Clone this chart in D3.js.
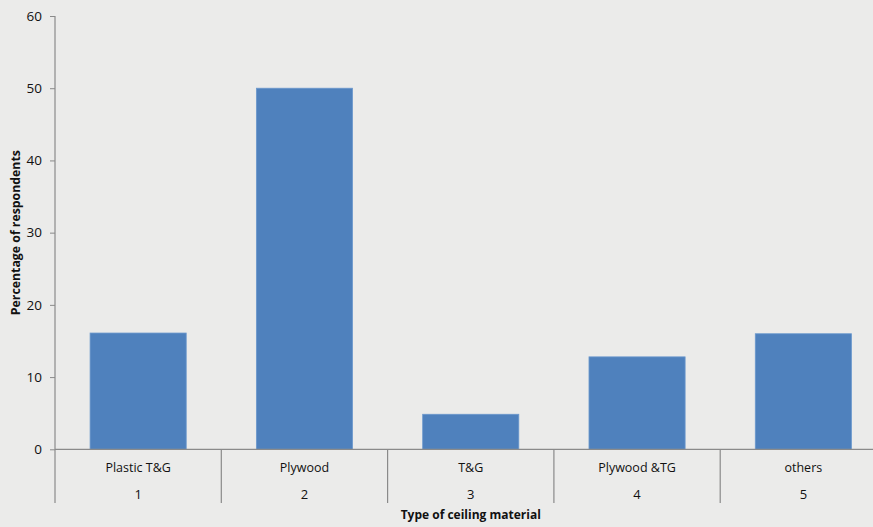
<!DOCTYPE html>
<html>
<head>
<meta charset="utf-8">
<script src="https://cdn.jsdelivr.net/npm/d3@7"></script>
<style>
  html, body { margin: 0; padding: 0; background: #ebebea; }
  svg { display: block; }
  text { font-family: "Open Sans", "Noto Sans", sans-serif; fill: #111; }
</style>
</head>
<body>
<svg id="chart" width="873" height="527"></svg>
<script>
// Ceiling material survey
const categories = ["Plastic T&G", "Plywood", "T&G", "Plywood &TG", "others"];
const codes = ["1", "2", "3", "4", "5"];
const percentages = [16.1, 50.0, 4.85, 12.8, 16.0];
const yTicks = [0, 10, 20, 30, 40, 50, 60];

const svg = d3.select("#chart");
const W = 873, H = 527;
const plotLeft = 55, plotRight = 886.5, plotTop = 16, plotBottom = 449.3;
const axisColor = "#8a8a8a";

svg.append("rect").attr("width", W).attr("height", H).attr("fill", "#ebebea");

const x = d3.scaleBand().domain(d3.range(categories.length)).range([plotLeft, plotRight]).padding(0);
const y = d3.scaleLinear().domain([0, 60]).range([plotBottom, plotTop]);
const barW = x.bandwidth() * 0.578;
const edgeX = i => plotLeft + i * x.step();

// Bars
svg.append("g").selectAll("rect")
  .data(percentages)
  .join("rect")
  .attr("x", (d, i) => x(i) + (x.bandwidth() - barW) / 2)
  .attr("y", d => y(d))
  .attr("width", barW)
  .attr("height", d => y(0) - y(d))
  .attr("fill", "#4f81bd")
  .attr("stroke", "#6b98cd")
  .attr("stroke-width", 0.8);

// Y axis
const yAxis = d3.axisLeft(y).tickValues(yTicks).tickSize(5).tickPadding(8);
const gy = svg.append("g").attr("transform", `translate(${plotLeft},0)`).call(yAxis);
gy.select(".domain").remove();
gy.selectAll(".tick line").attr("stroke", axisColor);
gy.selectAll(".tick text").attr("font-size", 13.5).attr("fill", "#111")
  .style("font-family", "'Open Sans', sans-serif");
svg.append("line").attr("x1", plotLeft).attr("x2", plotLeft).attr("y1", plotTop).attr("y2", 503)
  .attr("stroke", axisColor).attr("stroke-width", 1.2);

// X axis line and category separators
svg.append("line").attr("x1", plotLeft).attr("x2", W).attr("y1", y(0)).attr("y2", y(0))
  .attr("stroke", axisColor).attr("stroke-width", 1.2);
svg.append("g").selectAll("line")
  .data(d3.range(1, categories.length + 1))
  .join("line")
  .attr("x1", edgeX).attr("x2", edgeX)
  .attr("y1", y(0)).attr("y2", 503)
  .attr("stroke", axisColor).attr("stroke-width", 1.2);

// Category labels (two levels)
const labels = svg.append("g");
labels.selectAll("text.cat")
  .data(categories)
  .join("text")
  .attr("class", "cat")
  .attr("x", (d, i) => x(i) + x.bandwidth() / 2)
  .attr("y", 472)
  .attr("text-anchor", "middle")
  .attr("font-size", 12.5)
  .text(d => d);
labels.selectAll("text.code")
  .data(codes)
  .join("text")
  .attr("class", "code")
  .attr("x", (d, i) => x(i) + x.bandwidth() / 2)
  .attr("y", 499)
  .attr("text-anchor", "middle")
  .attr("font-size", 13)
  .text(d => d);

// Axis titles
svg.append("text")
  .attr("x", (plotLeft + plotRight) / 2).attr("y", 519)
  .attr("text-anchor", "middle")
  .attr("font-size", 12).attr("font-weight", "bold")
  .text("Type of ceiling material");
svg.append("text")
  .attr("transform", `translate(20,${(plotTop + plotBottom) / 2}) rotate(-90)`)
  .attr("text-anchor", "middle")
  .attr("font-size", 12.3).attr("font-weight", "bold")
  .text("Percentage of respondents");
</script>
</body>
</html>
